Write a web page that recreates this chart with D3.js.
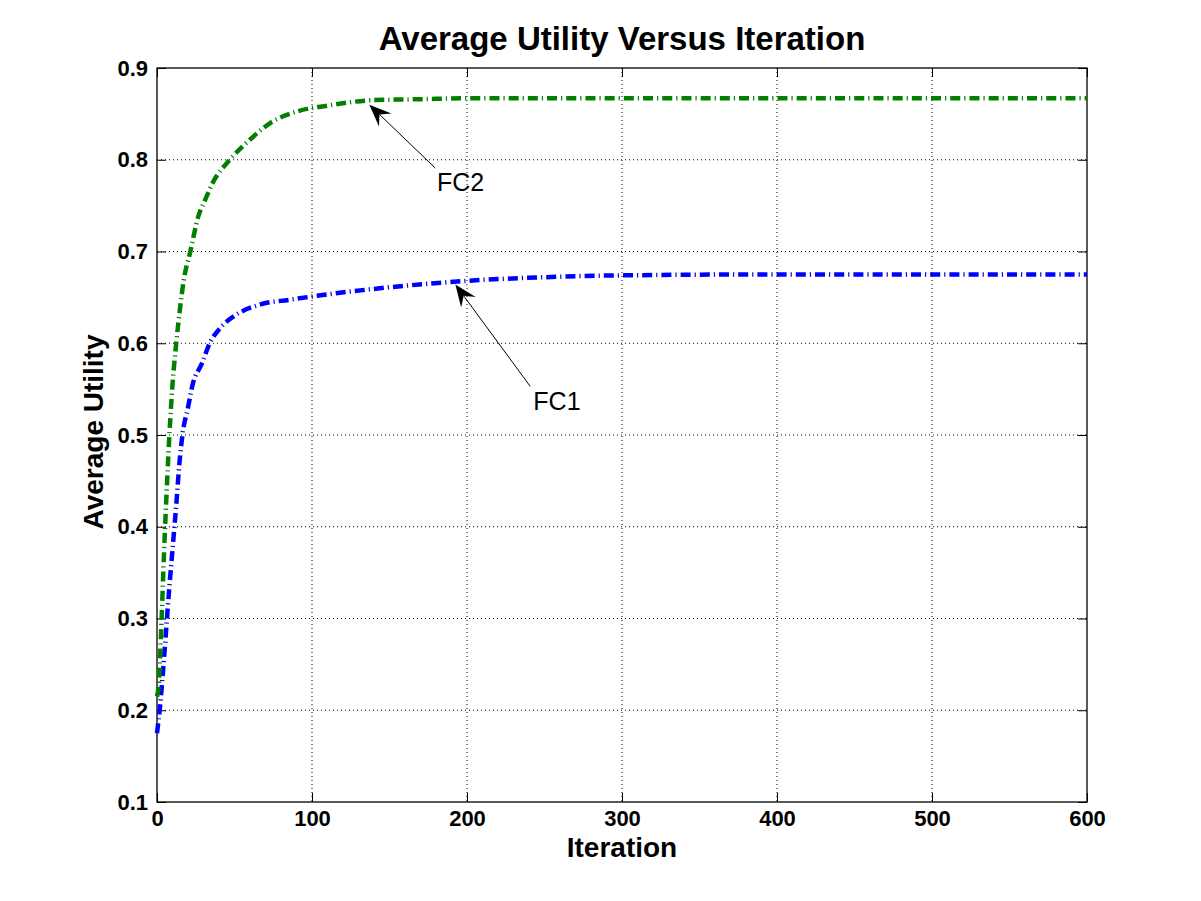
<!DOCTYPE html>
<html>
<head>
<meta charset="utf-8">
<script src="https://cdn.jsdelivr.net/npm/d3@7"></script>
<style>
  body { margin: 0; background: #fff; }
  svg { display: block; font-family: "Liberation Sans", Arial, sans-serif; }
  .grid line { stroke: #000; stroke-width: 1; stroke-dasharray: 1,3; }
  .tick-label { font-size: 22px; font-weight: bold; }
</style>
</head>
<body>
<div id="chart"></div>
<script>
// values
const iterFC1 = [0, 2, 4, 6, 8, 10, 12.7, 14.5, 16.4, 20, 23, 29, 34, 41, 51, 66, 86, 118, 150, 200, 250, 300, 400, 500, 600]
const valFC1 = [0.175, 0.205, 0.245, 0.29, 0.335, 0.375, 0.43, 0.47, 0.50, 0.53, 0.555, 0.578, 0.60, 0.617, 0.631, 0.642, 0.6475, 0.655, 0.661, 0.668, 0.672, 0.674, 0.675, 0.675, 0.675]

const iterFC2 = [0, 1, 3.2, 4.5, 6, 8, 10, 12.4, 15, 17, 21.5, 26.6, 31, 36, 47, 60, 73, 91, 110, 140, 170, 200, 300, 400, 500, 600]
const valFC2 = [0.215, 0.225, 0.31, 0.37, 0.43, 0.50, 0.555, 0.60, 0.64, 0.666, 0.70, 0.738, 0.756, 0.775, 0.80, 0.822, 0.84, 0.853, 0.859, 0.865, 0.866, 0.867, 0.867, 0.867, 0.867, 0.867]

const xTicks = [0, 100, 200, 300, 400, 500, 600]
const yTicks = [0.1, 0.2, 0.3, 0.4, 0.5, 0.6, 0.7, 0.8, 0.9]

const noteLabels = ['FC1', 'FC2']
const noteTips = [[192.5, 0.664], [137, 0.86]]
const noteTails = [[240.8, 0.553], [179.5, 0.791]]
const noteText = [[242.8, 0.5277], [180.6, 0.7655]]

const W = 1201, H = 901
const m = { left: 157, right: 114, top: 68, bottom: 99 }
const pw = W - m.left - m.right, ph = H - m.top - m.bottom

const svg = d3.select('#chart').append('svg')
  .attr('width', W).attr('height', H)

const x = d3.scaleLinear().domain([0, 600]).range([m.left, m.left + pw])
const y = d3.scaleLinear().domain([0.1, 0.9]).range([m.top + ph, m.top])

// grid
const grid = svg.append('g').classed('grid', true)
grid.selectAll('.gx').data(xTicks.slice(1, -1)).join('line')
  .attr('x1', d => x(d)).attr('x2', d => x(d))
  .attr('y1', m.top).attr('y2', m.top + ph)
grid.selectAll('.gy').data(yTicks.slice(1, -1)).join('line')
  .attr('class', 'gy')
  .attr('x1', m.left).attr('x2', m.left + pw)
  .attr('y1', d => y(d)).attr('y2', d => y(d))

// axes, ticks inward on all four sides
const tk = 9
const axB = svg.append('g').attr('transform', `translate(0,${m.top + ph})`)
  .call(d3.axisBottom(x).tickValues(xTicks).tickSize(-tk).tickFormat(d3.format('d')))
const axT = svg.append('g').attr('transform', `translate(0,${m.top})`)
  .call(d3.axisTop(x).tickValues(xTicks).tickSize(-tk).tickFormat(''))
const axL = svg.append('g').attr('transform', `translate(${m.left},0)`)
  .call(d3.axisLeft(y).tickValues(yTicks).tickSize(-tk).tickPadding(9).tickFormat(d3.format('.1f')))
const axR = svg.append('g').attr('transform', `translate(${m.left + pw},0)`)
  .call(d3.axisRight(y).tickValues(yTicks).tickSize(-tk).tickFormat(''))

;[axB, axT, axL, axR].forEach(a => {
  a.attr('font-family', null).attr('font-size', null)
  a.select('.domain').remove()
  a.selectAll('.tick line').attr('stroke', '#000').attr('stroke-width', 1)
  a.selectAll('.tick text')
    .classed('tick-label', true)
    .attr('fill', '#000')
})
axB.selectAll('.tick text').attr('y', 24).attr('dy', null)

svg.append('rect')
  .attr('x', m.left).attr('y', m.top).attr('width', pw).attr('height', ph)
  .attr('fill', 'none').attr('stroke', '#000').attr('stroke-width', 1.3)

// curves
const line = d3.line()
  .x(d => x(d[0])).y(d => y(d[1]))
  .curve(d3.curveMonotoneX)

const series = [
  { pts: d3.zip(iterFC1, valFC1), color: '#0000ff' },
  { pts: d3.zip(iterFC2, valFC2), color: '#007f00' }
]
svg.append('g').selectAll('path').data(series).join('path')
  .attr('d', d => line(d.pts))
  .attr('fill', 'none')
  .attr('stroke', d => d.color)
  .attr('stroke-width', 4.5)
  .attr('stroke-dasharray', '10,4,1.2,4')

// annotations
const notes = svg.append('g')
noteLabels.forEach((lab, i) => {
  const tx = x(noteTips[i][0]), ty = y(noteTips[i][1])
  const sx = x(noteTails[i][0]), sy = y(noteTails[i][1])
  const ang = Math.atan2(sy - ty, sx - tx)
  const L = 22, hw = 9, notch = 14
  const ux = Math.cos(ang), uy = Math.sin(ang)
  const px = -uy, py = ux
  notes.append('line')
    .attr('x1', sx).attr('y1', sy).attr('x2', tx + ux * notch).attr('y2', ty + uy * notch)
    .attr('stroke', '#000').attr('stroke-width', 1)
  notes.append('path')
    .attr('d', `M${tx},${ty}L${tx + ux * L + px * hw},${ty + uy * L + py * hw}` +
      `L${tx + ux * notch},${ty + uy * notch}L${tx + ux * L - px * hw},${ty + uy * L - py * hw}Z`)
    .attr('fill', '#000')
  notes.append('text')
    .attr('x', x(noteText[i][0])).attr('y', y(noteText[i][1]))
    .attr('font-size', 25)
    .text(lab)
})

// titles
svg.append('text')
  .attr('x', m.left + pw / 2).attr('y', 50)
  .attr('text-anchor', 'middle')
  .attr('font-size', 33).attr('font-weight', 'bold')
  .text('Average Utility Versus Iteration')
svg.append('text')
  .attr('x', m.left + pw / 2).attr('y', 857)
  .attr('text-anchor', 'middle')
  .attr('font-size', 28).attr('font-weight', 'bold')
  .text('Iteration')
svg.append('text')
  .attr('transform', `translate(103,${432}) rotate(-90)`)
  .attr('text-anchor', 'middle')
  .attr('font-size', 28).attr('font-weight', 'bold')
  .text('Average Utility')
</script>
</body>
</html>
